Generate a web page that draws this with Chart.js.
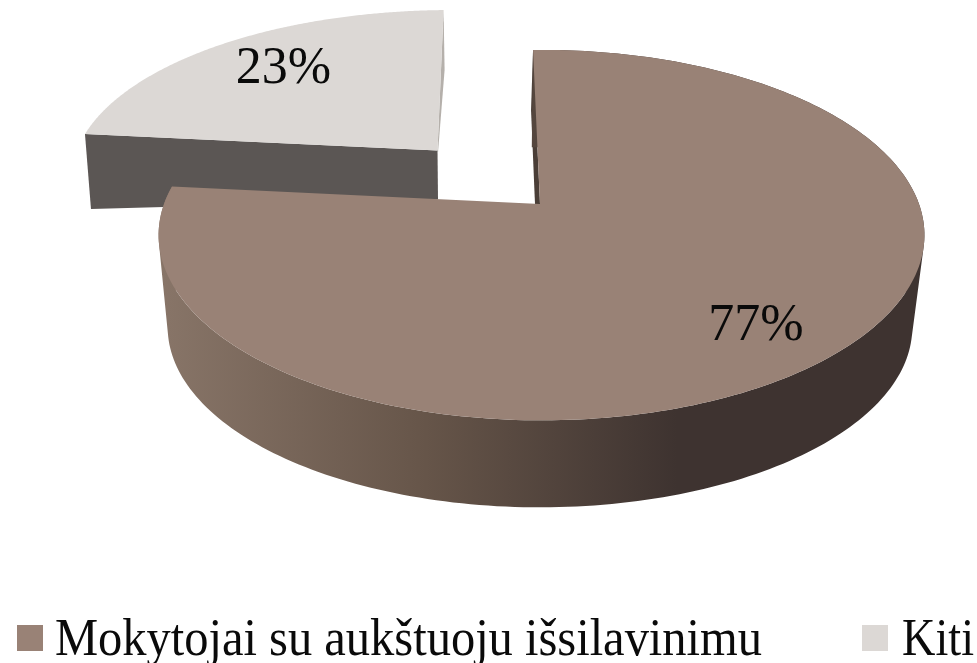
<!DOCTYPE html>
<html><head><meta charset="utf-8">
<style>html,body{margin:0;padding:0;background:#fff}canvas{display:block}</style>
<script src="https://cdn.jsdelivr.net/npm/chart.js@4"></script>
</head><body><canvas id="c" width="977" height="663"></canvas>
<script>
const categories = ["Mokytojai su aukštuoju išsilavinimu", "Kiti"];
const shares = [77, 23];
const faceColors = ["#998276", "#dcd8d5"];
const startDegrees = -91.5;

// 3D view of each exploded slice: a perspective projection of the unit disc.
const views = [
  {cx:541.5, cy:204, a:180, b:377.5, p:0.168, apex:[540,204], labelR:0.795, labelTurn:3.0,
   under:{cx:540, cy:297, a:175, b:367, p:0.168}, innerWall:{color:"#4a3e37", edge:"start", end:[-2,60], apex:[-5,0]}},
  {cx:452, cy:150, a:163.5, b:375, p:0.168, apex:[437.5,150.5], labelR:0.73, labelTurn:0.7,
   innerWall:{color:"#b5b0ab", edge:"end", end:[1,60], apex:[0.5,2]},
   frontWall:{color:"#5b5654", edge:"start", end:[6,75], apex:[0.5,49]}}
];
const sideStops = [[0,"#887568"],[0.35,"#665549"],[0.68,"#3e3330"],[1,"#3e3330"]];
const legendLayout = {baseline:655, font:'52px "Liberation Serif"', box:26, boxY:625,
  boxX:[17,862], textX:[55,902], textW:[707,72]};
const labelFont = '52px "Liberation Serif"';

function project(v, alpha, r){
  const u = r*Math.cos(alpha), t = -r*Math.sin(alpha), w = 1 + v.p*t;
  return [v.cx + v.b*u/w, v.cy - v.a*t/w];
}
function poly(ctx, pts, fill){
  ctx.beginPath(); pts.forEach((q,i)=> i?ctx.lineTo(q[0],q[1]):ctx.moveTo(q[0],q[1]));
  ctx.closePath(); ctx.fillStyle = fill; ctx.fill();
}
function add(a,d){return [a[0]+d[0],a[1]+d[1]];}

const pie3d = {
  id:"pie3d",
  beforeDatasetsDraw(chart){
    const ctx = chart.ctx, arcs = chart.getDatasetMeta(0).data, N = 240;
    ctx.save();
    for(let i = arcs.length-1; i >= 0; i--){
      const el = arcs[i], v = views[i], s = el.startAngle, e = el.endAngle;
      const top = [], bot = [];
      for(let k=0;k<=N;k++){
        const al = s + (e-s)*k/N;
        top.push(project(v,al,1));
        if(v.under) bot.push(project(v.under,al,1));
      }
      const rim = w => w.edge === "start" ? top[0] : top[N];
      if(v.innerWall){
        const w = v.innerWall, p0 = rim(w);
        poly(ctx,[p0,add(p0,w.end),add(v.apex,w.apex),v.apex],w.color);
      }
      if(v.frontWall){
        const w = v.frontWall, p0 = rim(w);
        poly(ctx,[p0,v.apex,add(v.apex,w.apex),add(p0,w.end)],w.color);
      }
      if(bot.length){
        const g = ctx.createLinearGradient(160,0,920,0);
        sideStops.forEach(q=>g.addColorStop(q[0],q[1]));
        ctx.beginPath();
        for(let k=0;k<N;k++){
          let q=[top[k],top[k+1],bot[k+1],bot[k]];
          let area=0;
          for(let m=0;m<4;m++){const A=q[m],B=q[(m+1)%4];area+=A[0]*B[1]-B[0]*A[1];}
          if(area<0) q.reverse();
          q.forEach((c,m)=>m?ctx.lineTo(c[0],c[1]):ctx.moveTo(c[0],c[1]));
          ctx.closePath();
        }
        ctx.fillStyle=g; ctx.fill();
      }
      poly(ctx,[v.apex].concat(top),el.options.backgroundColor);
    }
    const total = shares.reduce((x,y)=>x+y,0);
    ctx.fillStyle="#0a0a0a"; ctx.font=labelFont; ctx.textAlign="center"; ctx.textBaseline="middle";
    arcs.forEach((el,i)=>{
      const mid = (el.startAngle+el.endAngle)/2 + views[i].labelTurn*Math.PI/180;
      const q = project(views[i],mid,views[i].labelR);
      ctx.fillText(Math.round(shares[i]/total*100)+"%",q[0],q[1]);
    });
    ctx.restore();
    return false;
  },
  afterDraw(chart){
    const ctx = chart.ctx, L = legendLayout;
    const items = Chart.overrides.pie.plugins.legend.labels.generateLabels(chart);
    ctx.save();
    ctx.font=L.font; ctx.textBaseline="alphabetic"; ctx.textAlign="left";
    items.forEach((it,i)=>{
      ctx.fillStyle=it.fillStyle; ctx.fillRect(L.boxX[i],L.boxY,L.box,L.box);
      ctx.fillStyle="#0a0a0a"; ctx.fillText(it.text,L.textX[i],L.baseline,L.textW[i]);
    });
    ctx.restore();
  }
};

new Chart(document.getElementById("c"),{
  type:"pie",
  data:{labels:categories,datasets:[{data:shares,backgroundColor:faceColors,borderWidth:0}]},
  options:{
    responsive:false,animation:false,rotation:startDegrees+90,
    plugins:{legend:{display:false},tooltip:{enabled:false}}
  },
  plugins:[pie3d]
});
</script></body></html>
